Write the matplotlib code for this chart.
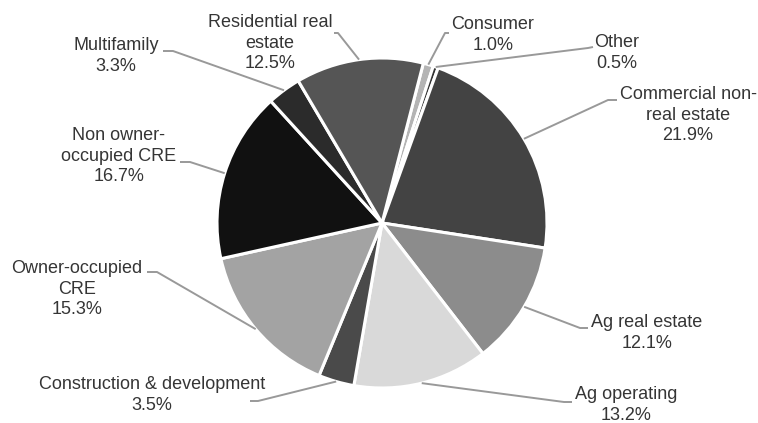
import numpy as np
import matplotlib
matplotlib.use("Agg")
import matplotlib.pyplot as plt

plt.rcParams['font.family'] = ['Liberation Sans', 'DejaVu Sans']

# loan portfolio mix, clockwise from the top
categories = ['Consumer', 'Other', 'Commercial non-\nreal estate', 'Ag real estate',
              'Ag operating', 'Construction & development', 'Owner-occupied\nCRE',
              'Non owner-\noccupied CRE', 'Multifamily', 'Residential real\nestate']
shares = [1.0, 0.5, 21.9, 12.1, 13.2, 3.5, 15.3, 16.7, 3.3, 12.5]
colors = ['#b4b4b4', '#333333', '#434343', '#8c8c8c', '#d9d9d9',
          '#4a4a4a', '#a3a3a3', '#111111', '#2b2b2b', '#555555']

W, H = 758, 423
CX, CY, R = 382, 223, 165

# label block centre and leader start/elbow, in pixels from top-left
label_pos = [(493, 35), (617, 53), (688, 115), (647, 333), (626, 405),
             (152, 395), (77, 289), (119, 156), (116, 56), (270, 43)]
leader_pts = [[(449, 33), (445, 33)], [(593, 47), (588, 48)],
              [(617, 100), (608, 100)], [(588, 328), (580, 328)],
              [(572, 402), (564, 402)], [(250, 401), (258, 401)],
              [(147, 272), (157, 272)], [(180, 162), (190, 162)],
              [(163, 51), (173, 51)], [(334, 33), (338, 33)]]

fig = plt.figure(figsize=(W / 100, H / 100), dpi=100)
ax = fig.add_axes([0, 0, 1, 1])

wedges, _ = ax.pie(shares, colors=colors, startangle=75.5, counterclock=False,
                   center=(CX, H - CY), radius=R, frame=True,
                   wedgeprops=dict(edgecolor='white', linewidth=2.2))
ax.set_xlim(0, W)
ax.set_ylim(0, H)
ax.axis('off')

for w, name, val, (tx, ty), pts in zip(wedges, categories, shares, label_pos, leader_pts):
    mid = np.deg2rad((w.theta1 + w.theta2) / 2)
    ax_x = CX + R * np.cos(mid)
    ax_y = (H - CY) + R * np.sin(mid)
    xs = [p[0] for p in pts] + [ax_x]
    ys = [H - p[1] for p in pts] + [ax_y]
    ax.plot(xs, ys, color='#999999', lw=1.4, solid_capstyle='butt')
    ax.text(tx, H - ty, f"{name}\n{val:.1f}%", ha='center', va='center',
            fontsize=13, color='#353535', linespacing=1.3)

fig.savefig('out.png', dpi=100)
